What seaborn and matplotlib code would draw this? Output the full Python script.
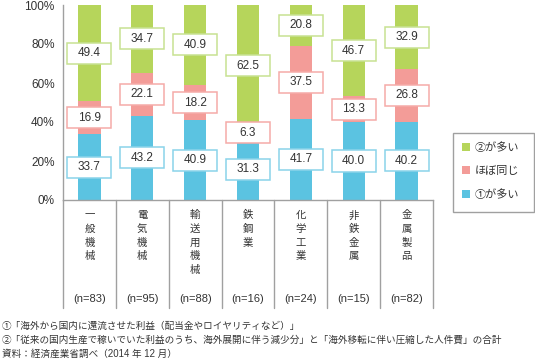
import matplotlib
matplotlib.use("Agg")
import matplotlib.pyplot as plt
from matplotlib.patches import Rectangle, Patch
import seaborn as sns

# --- données ---
categories = ["一般機械", "電気機械", "輸送用機械", "鉄鋼業", "化学工業", "非鉄金属", "金属製品"]
sample_sizes = [83, 95, 88, 16, 24, 15, 82]
more_1 = [33.7, 43.2, 40.9, 31.3, 41.7, 40.0, 40.2]   # ①が多い
same = [16.9, 22.1, 18.2, 6.3, 37.5, 13.3, 26.8]      # ほぼ同じ
more_2 = [49.4, 34.7, 40.9, 62.5, 20.8, 46.7, 32.9]   # ②が多い
yticks = [0, 20, 40, 60, 80, 100]
legend_labels = ["②が多い", "ほぼ同じ", "①が多い"]
notes = [
    "①「海外から国内に還流させた利益（配当金やロイヤリティなど）」",
    "②「従来の国内生産で稼いでいた利益のうち、海外展開に伴う減少分」と「海外移転に伴い圧縮した人件費」の合計",
    "資料：経済産業省調べ（2014 年 12 月）",
]

BLUE, PINK, GREEN = "#5bc3e1", "#f39c98", "#b6d55b"
BLUE_EDGE, PINK_EDGE, GREEN_EDGE = "#8ad3ea", "#f5aba8", "#c8e292"
GRAY = "#a0a0a0"
TXT = "#333333"

sns.set_style("white")
plt.rcParams["font.family"] = ["Liberation Sans", "Noto Sans CJK JP", "DejaVu Sans"]

W, H = 535, 363
fig = plt.figure(figsize=(W / 100, H / 100), dpi=100)
ax = fig.add_axes([63 / W, 1 - 200 / H, 370 / W, 195 / H])

# empilement : on trace les cumuls du plus haut au plus bas
low = more_1
mid = [a + b for a, b in zip(more_1, same)]
top = [a + b + c for a, b, c in zip(more_1, same, more_2)]
for vals, col in [(top, GREEN), (mid, PINK), (low, BLUE)]:
    sns.barplot(x=categories, y=vals, color=col, width=0.42, saturation=1,
                linewidth=0, ax=ax)

ax.set_ylim(0, 100)
ax.set_xlim(-0.5, len(categories) - 0.5)
ax.set_yticks(yticks)
ax.set_yticklabels([f"{v}%" for v in yticks])
ax.tick_params(axis="y", length=4, width=1, color=GRAY, labelsize=8.5,
               labelcolor=TXT, pad=2)
ax.tick_params(axis="x", length=0, labelbottom=False)
ax.set_xlabel("")
ax.set_ylabel("")
for s in ["top", "right"]:
    ax.spines[s].set_visible(False)
for s in ["left", "bottom"]:
    ax.spines[s].set_color(GRAY)
    ax.spines[s].set_linewidth(1)

# étiquettes encadrées
box_w, box_h = 0.83, 10.8
segments = [
    (more_1, [0] * len(more_1), BLUE_EDGE),
    (same, more_1, PINK_EDGE),
    (more_2, mid, GREEN_EDGE),
]
for vals, bottoms, edge in segments:
    for i, (v, b) in enumerate(zip(vals, bottoms)):
        c = b + v / 2
        ax.add_patch(Rectangle((i - box_w / 2, c - box_h / 2), box_w, box_h,
                               facecolor="white", edgecolor=edge, linewidth=1.1,
                               clip_on=False, zorder=5))
        ax.text(i, c, f"{v:.1f}", ha="center", va="center", fontsize=8.5,
                color=TXT, zorder=6)

# tableau des catégories sous l'axe
xt = ax.get_xaxis_transform()
for k in range(len(categories) + 1):
    ax.plot([k - 0.5, k - 0.5], [0, -0.555], color=GRAY, lw=1,
            transform=xt, clip_on=False)
for i, (cat, n) in enumerate(zip(categories, sample_sizes)):
    ax.text(i, -0.053, "\n".join(cat), transform=xt, ha="center", va="top",
            fontsize=7.5, linespacing=1.45, color=TXT)
    ax.text(i, -0.508, f"(n={n})", transform=xt, ha="center", va="center",
            fontsize=8, color=TXT)

# légende (cadre dessiné à part pour garder la largeur d'origine)
fig.patches.append(Rectangle((453 / W, 1 - 212 / H), 81 / W, 79 / H,
                             transform=fig.transFigure, facecolor="white",
                             edgecolor=GRAY, linewidth=1, zorder=1))
handles = [Patch(facecolor=c, edgecolor="none") for c in (GREEN, PINK, BLUE)]
leg = fig.legend(handles, legend_labels, loc="upper left",
                 bbox_to_anchor=(453 / W, 1 - 133 / H), frameon=False,
                 fontsize=8, handlelength=0.75, handleheight=0.75,
                 handletextpad=0.4, labelspacing=1.2, borderpad=0.8,
                 borderaxespad=0)
leg.set_zorder(3)
for t in leg.get_texts():
    t.set_color(TXT)

# notes
for y, note in zip([326, 340, 354], notes):
    fig.text(2 / W, 1 - y / H, note, fontsize=6.9, va="center", color=TXT)

plt.savefig("out.png", dpi=100)
